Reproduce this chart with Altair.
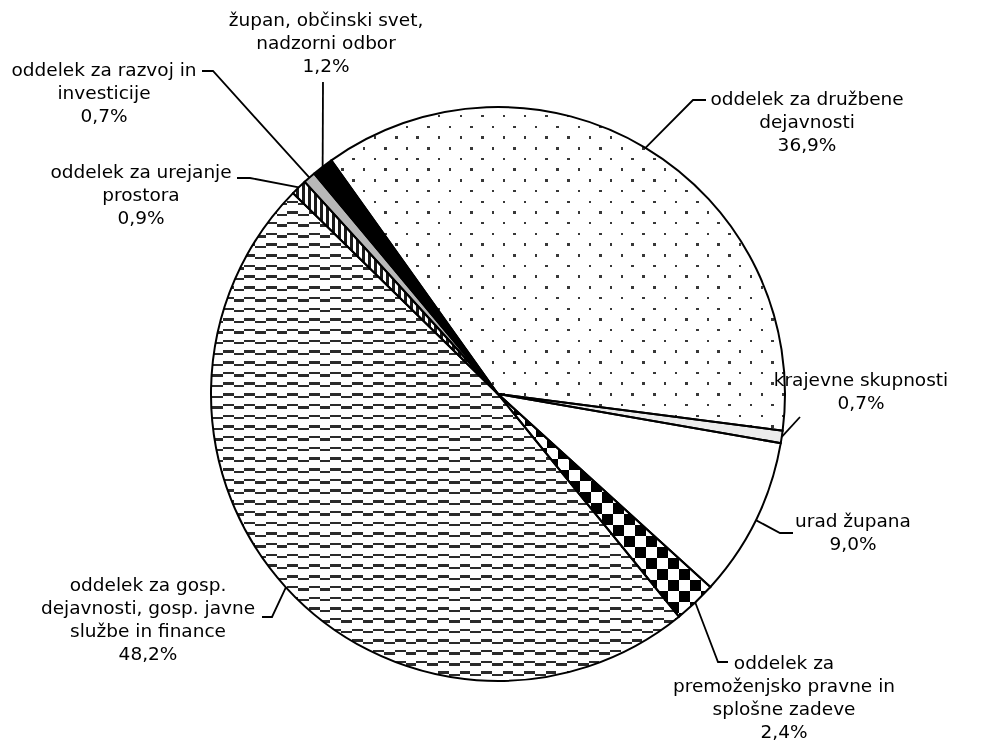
import math
import altair as alt
import pandas as pd

# ---------------- data ----------------
categories = [
    "oddelek za družbene dejavnosti",
    "krajevne skupnosti",
    "urad župana",
    "oddelek za premoženjsko pravne in splošne zadeve",
    "oddelek za gosp. dejavnosti, gosp. javne službe in finance",
    "oddelek za urejanje prostora",
    "oddelek za razvoj in investicije",
    "župan, občinski svet, nadzorni odbor",
]
shares = [36.9, 0.7, 9.0, 2.4, 48.2, 0.9, 0.7, 1.2]
label_lines = [
    ["oddelek za družbene", "dejavnosti"],
    ["krajevne skupnosti"],
    ["urad župana"],
    ["oddelek za", "premoženjsko pravne in", "splošne zadeve"],
    ["oddelek za gosp.", "dejavnosti, gosp. javne", "službe in finance"],
    ["oddelek za urejanje", "prostora"],
    ["oddelek za razvoj in", "investicije"],
    ["župan, občinski svet,", "nadzorni odbor"],
]

# ---------------- layout / style ----------------
W, H = 984, 735
CX, CY, R = 490, 386, 287
START_DEG = 324.5
FONT, FS, LH = "DejaVu Sans", 18.5, 23
# label anchors (center x, first line center y) in chart pixels
label_anchor = [(799, 91), (853, 372), (845, 513), (776, 655),
                (140, 577), (133, 164), (96, 62), (318, 12)]
# leader line elbows after the start point on the circle
leader_elbows = [
    [(685, 92), (698, 92)],
    [(792, 409)],
    [(772, 525), (785, 525)],
    [(710, 654), (720, 654)],
    [(264, 609), (254, 609)],
    [(242, 170), (229, 170)],
    [(205, 63), (194, 63)],
    [(315, 74)],
]

total = sum(shares)
angles = []
cum = 0.0
for v in shares:
    a0 = START_DEG + cum / total * 360
    cum += v
    a1 = START_DEG + cum / total * 360
    angles.append((a0, a1))


def bbox(a0, a1):
    xs, ys = [CX], [CY]
    n = 200
    for i in range(n + 1):
        a = math.radians(a0 + (a1 - a0) * i / n)
        xs.append(CX + R * math.sin(a))
        ys.append(CY - R * math.cos(a))
    return min(xs), max(xs), min(ys), max(ys)


def stripes(lo, hi, period, bands, dark, light, along_x):
    L = hi - lo
    stops = [(0.0, light)]
    k = math.floor(lo / period) - 1
    while k * period < hi:
        for s, e in bands:
            p0, p1 = k * period + s, k * period + e
            if p1 <= lo or p0 >= hi:
                continue
            f0 = max(0.0, (p0 - lo) / L)
            f1 = min(1.0, (p1 - lo) / L)
            stops += [(f0, light), (f0, dark), (f1, dark), (f1, light)]
        k += 1
    stops.append((1.0, light))
    return {
        "gradient": "linear",
        "x1": 0, "y1": 0,
        "x2": 1 if along_x else 0,
        "y2": 0 if along_x else 1,
        "stops": [{"offset": round(o, 5), "color": c} for o, c in stops],
    }


bb = [bbox(a0, a1) for a0, a1 in angles]
WH, BK = "#ffffff", "#000000"
DOT, WAVE = "#383838", "#2a2a2a"

# dotted (staggered dots)
x0, x1, y0, y1 = bb[0]
dot_h1 = stripes(y0, y1, 21.4, [(0, 2.5)], BK, WH, False)
dot_v1 = stripes(x0, x1, 21.5, [(0, 2.5)], BK, WH, True)
dot_h2 = stripes(y0, y1, 21.4, [(0, 2.5), (10.7, 13.2)], DOT, WH, False)
dot_v2 = stripes(x0, x1, 21.5, [(0, 2.5), (10.75, 13.25)], DOT, WH, True)
# checker
x0, x1, y0, y1 = bb[3]
chk_h = stripes(y0, y1, 22, [(0, 11)], BK, WH, False)
chk_v = stripes(x0, x1, 22, [(0, 11)], BK, WH, True)
# waves
x0, x1, y0, y1 = bb[4]
wav_h1 = stripes(y0, y1, 10.7, [(0, 2.4)], BK, WH, False)
wav_v1 = stripes(x0, x1, 21.5, [(0, 10.75)], BK, WH, True)
wav_h2 = stripes(y0, y1, 10.7, [(0, 2.4), (2.4, 4.8)], WAVE, WH, False)
# vertical bars
x0, x1, y0, y1 = bb[5]
bars = stripes(x0, x1, 6, [(0, 3)], "#1a1a1a", WH, True)

slices = pd.DataFrame({"name": categories, "share": shares, "order": list(range(len(shares)))})

theta_start = math.radians(START_DEG)
theta = alt.Theta("share:Q", stack=True,
                  scale=alt.Scale(range=[theta_start, theta_start + 2 * math.pi]))


def fill_enc(fills):
    return {
        "condition": [{"test": f"datum.order === {i}", "value": f} for i, f in fills.items()],
        "value": "transparent",
    }


def arc_layer(fills, blend=None):
    props = dict(radius=R)
    if blend:
        props["blend"] = blend
    return alt.Chart(slices).mark_arc(**props).encode(
        theta=theta, order=alt.Order("order:Q"),
        x=alt.value(CX), y=alt.value(CY), fill=fill_enc(fills))


base = arc_layer({0: dot_h1, 1: "#ececec", 2: WH, 3: chk_h, 4: wav_h1,
                  5: bars, 6: "#b8b8b8", 7: BK})
diff = arc_layer({0: dot_v1, 3: chk_v, 4: wav_v1}, "difference")
light1 = arc_layer({0: dot_h2, 4: wav_h2}, "lighten")
light2 = arc_layer({0: dot_v2}, "lighten")
outline = alt.Chart(slices).mark_arc(radius=R, fillOpacity=0, stroke="black", strokeWidth=2).encode(
    theta=theta, order=alt.Order("order:Q"), x=alt.value(CX), y=alt.value(CY))

# labels
rows = []
for i, lines in enumerate(label_lines):
    pct = f"{shares[i]:.1f}".replace(".", ",") + "%"
    ax, ay = label_anchor[i]
    for j, t in enumerate(lines + [pct]):
        rows.append({"x": ax, "y": ay + j * LH, "text": t})
text_df = pd.DataFrame(rows)

lrows = []
for i, (a0, a1) in enumerate(angles):
    m = math.radians((a0 + a1) / 2)
    pts = [(CX + R * math.sin(m), CY - R * math.cos(m))] + leader_elbows[i]
    for k, (px, py) in enumerate(pts):
        lrows.append({"id": i, "seq": k, "x": px, "y": py})
lead_df = pd.DataFrame(lrows)

leaders = alt.Chart(lead_df).mark_line(color="black", strokeWidth=1.8).encode(
    x=alt.X("x:Q", scale=None, axis=None), y=alt.Y("y:Q", scale=None, axis=None),
    detail="id:N", order="seq:Q")

texts = alt.Chart(text_df).mark_text(font=FONT, fontSize=FS, align="center",
                                     baseline="middle", color="black").encode(
    x=alt.X("x:Q", scale=None, axis=None), y=alt.Y("y:Q", scale=None, axis=None),
    text="text:N")

chart = alt.layer(base, diff, light1, light2, outline, leaders, texts).properties(
    width=W, height=H, padding=0, autosize=alt.AutoSizeParams(type="none")
).configure_view(strokeWidth=0)

chart.save("out.html", embed_options={"renderer": "svg", "actions": False})
